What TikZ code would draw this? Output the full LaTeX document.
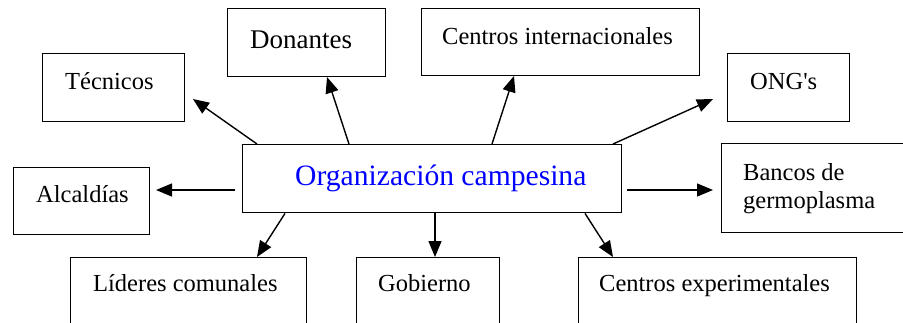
\documentclass[tikz,border=0pt]{standalone}
\usepackage{fontspec}
\setmainfont{Liberation Serif}
\usetikzlibrary{arrows.meta}
\begin{document}
\begin{tikzpicture}[x=1pt,y=-1pt,
  box/.style={draw,line width=1.4pt,anchor=north west,inner sep=0pt},
  lbl/.style={anchor=base west,inner sep=0pt,font=\fontsize{24.5}{28}\selectfont},
  arr/.style={line width=1.4pt,-{Triangle[length=16pt,width=13pt]}}]
\useasboundingbox (0,0) rectangle (903,322);
\clip (0,0) rectangle (903,322);
% boxes
\node[box,minimum width=142pt,minimum height=68pt] (tec) at (42,53) {};
\node[box,minimum width=158pt,minimum height=68pt] (don) at (227,8) {};
\node[box,minimum width=278pt,minimum height=67pt] (cin) at (421,8) {};
\node[box,minimum width=122pt,minimum height=68pt] (ong) at (727,53) {};
\node[box,minimum width=379pt,minimum height=68pt] (org) at (242,144) {};
\node[box,minimum width=136pt,minimum height=67pt] (alc) at (13,167) {};
\node[box,minimum width=200pt,minimum height=89pt] (ban) at (721,143) {};
\node[box,minimum width=236pt,minimum height=80pt] (lid) at (70,257) {};
\node[box,minimum width=143pt,minimum height=80pt] (gob) at (356,257) {};
\node[box,minimum width=278pt,minimum height=80pt] (cex) at (578,257) {};
% texts
\node[lbl] (ttec) at (65,89) {Técnicos};
\node[lbl,font=\fontsize{27}{31}\selectfont] (tdon) at (250,48) {Donantes};
\node[lbl] (tcin) at (442,44) {Centros internacionales};
\node[lbl] (tong) at (750,89) {ONG\textquotesingle s};
\node[lbl] (talc) at (36,202) {Alcaldías};
\node[lbl,font=\fontsize{29.6}{34}\selectfont,text={rgb,255:red,0;green,0;blue,255}] (torg) at (295,185) {Organización campesina};
\node[lbl] (tban1) at (743,180) {Bancos de};
\node[lbl] (tban2) at (743,208) {germoplasma};
\node[lbl] (tlid) at (93,291) {Líderes comunales};
\node[lbl] (tgob) at (378,291) {Gobierno};
\node[lbl] (tcex) at (599,291) {Centros experimentales};
% arrow ends
\coordinate (etec) at (193,99);
\coordinate (edon) at (327,77);
\coordinate (ecin) at (514,76);
\coordinate (eong) at (713,99);
\coordinate (salc) at (235,190);
\coordinate (ealc) at (156,190);
\coordinate (sban) at (627,190);
\coordinate (eban) at (713,190);
\coordinate (elid) at (257,257);
\coordinate (egob) at (435,257);
\coordinate (ecex) at (613,257);
% arrows
\draw[arr] ([xshift=15pt]org.north west) -- (etec);
\draw[arr] ([xshift=107pt]org.north west) -- (edon);
\draw[arr] ([xshift=250pt]org.north west) -- (ecin);
\draw[arr] ([xshift=371pt]org.north west) -- (eong);
\draw[arr] (salc) -- (ealc);
\draw[arr] (sban) -- (eban);
\draw[arr] ([xshift=43pt]org.south west) -- (elid);
\draw[arr] ([xshift=193pt]org.south west) -- (egob);
\draw[arr] ([xshift=343pt]org.south west) -- (ecex);
\end{tikzpicture}
\end{document}
